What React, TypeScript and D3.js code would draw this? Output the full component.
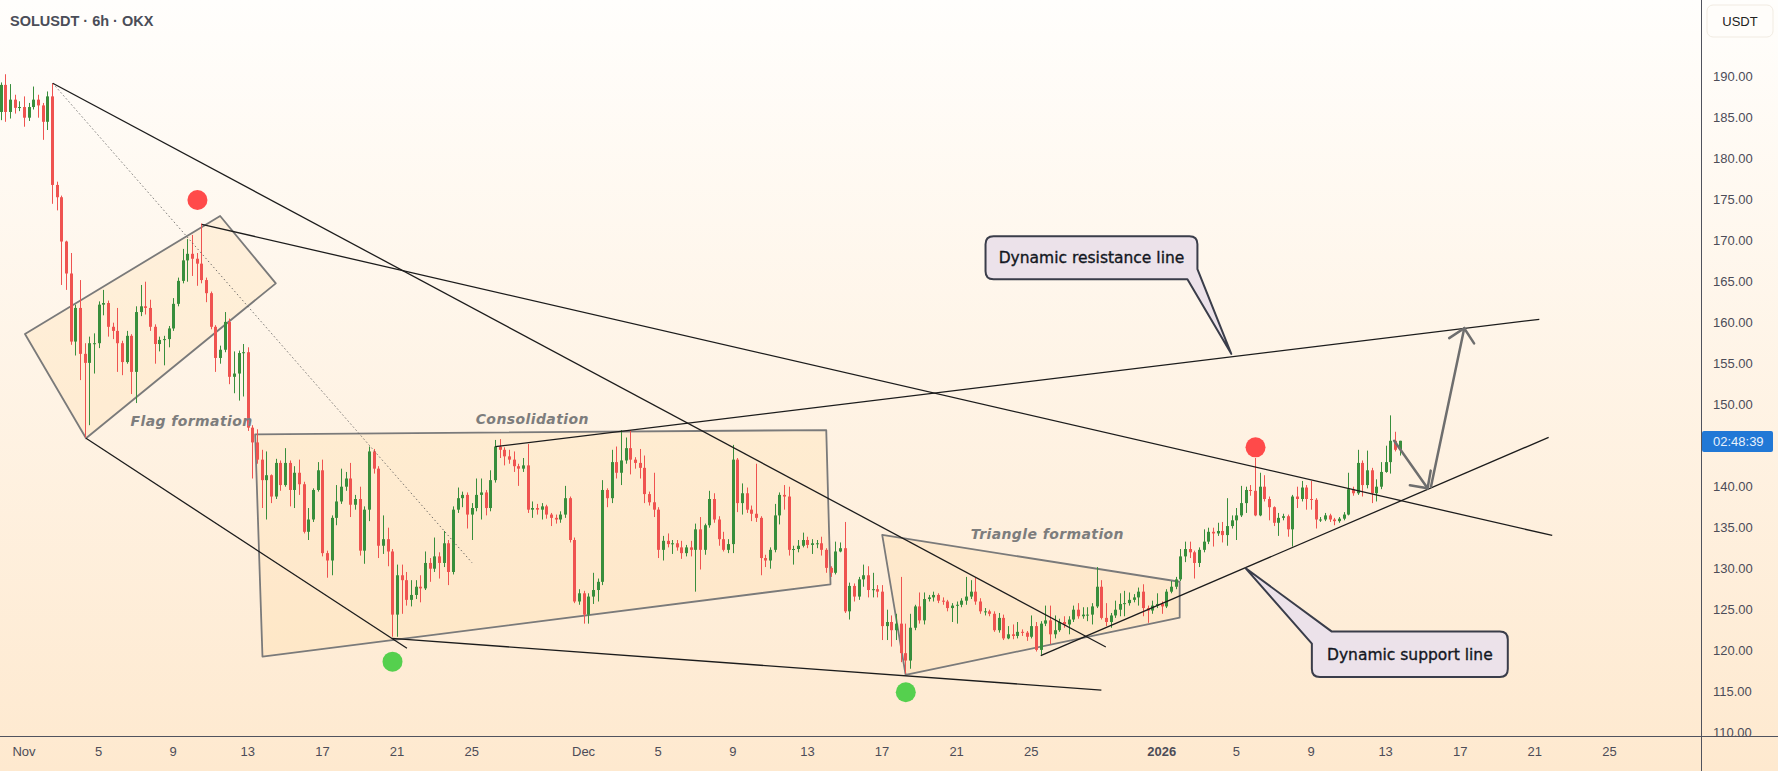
import React from "react";
import * as d3 from "d3";

const W = 1778;
const H = 771;
const PANE_R = 1701.5;
const PANE_B = 736.5;

// 6h bars, first bar opens 2025-10-30 18:00 UTC
const firstBar = "2025-10-30T18:00:00Z";
const firstOpen = 185.7;

const closes = [
  189.0, 185.7, 187.2, 186.2, 186.3, 185.0, 186.3, 187.2, 186.5, 184.5, 187.6, 176.8, 175.3, 169.9, 166.0, 157.7,
  161.8, 156.2, 155.1, 157.5, 157.5, 162.2, 162.4, 159.5, 159.0, 157.5, 155.2, 158.4, 154.0, 161.3, 162.0, 161.8,
  159.5, 157.4, 157.9, 158.0, 159.3, 162.3, 165.1, 167.6, 168.4, 167.8, 167.2, 165.2, 163.6, 159.5, 155.7, 156.7,
  160.1, 153.4, 153.8, 156.3, 156.4, 147.2, 145.4, 143.3, 140.8, 141.4, 138.8, 142.9, 140.2, 142.9, 139.6, 141.7,
  140.3, 134.5, 136.0, 139.6, 142.0, 131.9, 131.0, 136.2, 138.2, 140.0, 141.0, 137.8, 138.5, 132.2, 137.2, 144.3,
  142.2, 132.8, 133.6, 132.1, 124.4, 129.2, 128.6, 126.2, 126.8, 127.8, 127.6, 130.7, 130.0, 131.5, 130.7, 133.1,
  129.6, 137.2, 138.6, 139.0, 136.6, 137.4, 139.0, 139.3, 137.4, 140.8, 144.9, 144.5, 143.7, 143.3, 142.5, 142.2,
  142.6, 137.2, 137.4, 137.2, 137.6, 136.6, 136.2, 136.0, 136.6, 138.6, 133.5, 126.0, 127.0, 124.4, 126.6, 127.4,
  128.4, 139.6, 138.6, 143.0, 141.7, 143.2, 144.7, 143.3, 142.9, 142.3, 139.1, 138.1, 137.2, 132.3, 133.4, 133.0,
  133.1, 132.6, 131.9, 132.6, 132.3, 134.8, 132.3, 135.3, 138.5, 136.0, 133.6, 132.3, 133.0, 143.3, 138.0, 139.2,
  137.2, 136.7, 136.2, 131.3, 131.0, 132.3, 136.5, 139.0, 138.8, 132.3, 132.4, 132.8, 133.5, 132.9, 133.1, 133.1,
  132.3, 130.1, 129.5, 132.1, 132.5, 124.8, 127.9, 126.6, 128.7, 129.2, 127.4, 127.5, 127.2, 123.0, 123.5, 122.5,
  123.3, 119.7, 118.8, 122.8, 125.4, 123.7, 126.3, 126.5, 126.8, 126.1, 126.0, 125.2, 125.5, 125.6, 126.1, 126.6,
  127.2, 126.0, 124.8, 124.8, 124.5, 122.5, 124.0, 121.5, 122.0, 121.8, 122.3, 122.2, 121.7, 123.0, 120.1, 123.3,
  123.7, 122.0, 122.5, 123.5, 123.2, 123.8, 125.0, 124.2, 124.4, 124.4, 125.4, 127.8, 124.0, 123.5, 124.3, 125.0,
  125.7, 125.8, 126.2, 126.5, 127.2, 125.2, 124.9, 125.5, 125.7, 125.4, 127.2, 127.8, 128.7, 131.5, 132.4, 132.0,
  130.7, 132.3, 133.3, 134.5, 134.3, 134.6, 134.1, 135.2, 135.9, 136.5, 138.0, 139.6, 139.5, 136.5, 140.0, 138.5,
  137.5, 135.6, 136.2, 136.4, 134.8, 138.8, 138.5, 139.9, 138.5, 138.4, 136.0, 136.0, 136.5, 136.0, 135.8, 136.1,
  136.6, 139.7, 139.2, 142.9, 140.2, 142.0, 139.2, 140.0, 141.8, 143.0, 145.6, 144.5, 145.6,
];

const highs = [
  189.3, 190.3, 189.1, 187.8, 187.0, 187.6, 186.8, 188.8, 187.8, 186.8, 188.2, 189.2, 177.2, 175.5, 170.0, 168.5,
  162.2, 165.2, 157.5, 158.3, 158.7, 162.6, 164.0, 162.7, 160.0, 161.8, 157.8, 159.0, 158.6, 162.0, 164.6, 165.0,
  162.8, 159.8, 158.3, 158.4, 159.6, 163.0, 165.5, 169.0, 170.2, 170.7, 168.5, 172.1, 165.5, 163.8, 159.7, 157.2,
  161.3, 160.5, 156.5, 156.6, 157.4, 157.0, 147.5, 147.0, 144.5, 144.3, 141.5, 143.4, 143.2, 144.7, 143.2, 142.5,
  143.3, 140.6, 137.4, 139.8, 143.0, 143.3, 132.2, 136.5, 140.2, 142.2, 141.8, 142.9, 139.0, 140.0, 137.6, 144.9,
  144.6, 142.5, 136.5, 135.0, 132.4, 130.5, 130.5, 129.6, 128.6, 128.6, 129.2, 132.1, 131.3, 133.8, 132.0, 134.6,
  133.5, 137.6, 139.9, 139.4, 139.3, 138.0, 141.0, 141.0, 139.6, 142.0, 145.7, 145.8, 144.8, 144.5, 144.3, 142.8,
  143.5, 145.2, 138.2, 137.9, 138.0, 137.8, 136.8, 136.6, 137.0, 140.1, 138.8, 133.8, 127.5, 127.3, 127.0, 129.5,
  128.8, 140.8, 139.8, 144.5, 144.9, 146.9, 146.0, 146.9, 143.6, 144.6, 143.8, 139.4, 141.7, 137.5, 134.0, 134.3,
  133.5, 133.5, 133.4, 132.9, 133.4, 135.5, 136.3, 135.5, 139.5, 139.2, 136.4, 134.5, 133.6, 145.1, 143.5, 140.4,
  139.9, 137.7, 142.8, 136.4, 131.7, 132.6, 137.9, 139.3, 140.2, 140.0, 132.8, 133.5, 134.4, 133.9, 133.6, 133.5,
  133.9, 132.5, 130.3, 133.3, 133.2, 135.7, 128.3, 128.2, 129.0, 130.5, 130.3, 129.5, 128.0, 128.0, 125.0, 124.3,
  124.5, 129.0, 123.3, 124.5, 125.6, 127.1, 127.1, 126.8, 127.2, 127.0, 126.5, 126.2, 125.8, 126.0, 126.4, 129.0,
  128.6, 128.9, 126.4, 125.2, 125.0, 124.8, 124.6, 124.4, 123.0, 123.2, 123.5, 122.6, 122.4, 124.3, 123.5, 123.6,
  125.5, 125.5, 124.3, 123.9, 124.2, 124.2, 125.5, 125.8, 125.3, 125.3, 125.8, 130.2, 128.6, 125.8, 124.6, 126.1,
  127.0, 127.3, 127.1, 126.9, 127.7, 128.1, 125.5, 126.1, 127.0, 126.0, 127.5, 128.5, 129.0, 132.4, 133.3, 133.3,
  132.2, 132.6, 134.8, 135.0, 135.0, 135.6, 135.7, 138.6, 136.5, 137.4, 140.1, 140.0, 140.2, 143.5, 141.7, 141.4,
  138.8, 137.6, 136.8, 136.7, 136.6, 139.0, 140.0, 140.7, 140.2, 140.7, 138.6, 136.3, 136.8, 136.7, 136.2, 136.3,
  136.9, 141.7, 140.0, 144.5, 143.2, 144.4, 142.3, 140.9, 143.0, 145.0, 148.7, 146.7, 145.6,
];

const lows = [
  184.7, 184.5, 184.9, 185.5, 185.8, 183.9, 184.6, 186.0, 185.0, 182.3, 183.5, 174.5, 173.7, 164.6, 164.0, 157.3,
  156.0, 153.0, 146.0, 147.5, 153.8, 156.9, 160.9, 158.3, 158.0, 154.0, 153.6, 155.0, 151.3, 150.2, 160.8, 161.0,
  159.0, 155.0, 156.5, 154.8, 157.0, 159.0, 162.0, 164.8, 165.0, 165.7, 164.5, 164.8, 162.5, 159.2, 154.0, 155.0,
  156.4, 152.5, 151.4, 150.5, 151.0, 146.8, 141.0, 142.8, 137.4, 136.0, 138.0, 138.5, 139.5, 140.0, 137.6, 137.4,
  139.0, 134.3, 133.5, 135.7, 139.4, 131.5, 128.9, 129.2, 135.3, 137.9, 139.5, 136.3, 137.2, 131.6, 130.6, 135.8,
  141.6, 131.3, 131.8, 130.3, 121.7, 121.7, 124.5, 125.5, 125.4, 126.3, 125.9, 127.4, 128.4, 129.6, 128.8, 130.2,
  128.0, 129.3, 136.8, 137.5, 134.9, 133.5, 137.0, 136.0, 136.5, 137.0, 140.5, 143.5, 142.6, 142.8, 141.8, 140.1,
  141.8, 136.8, 136.2, 136.6, 136.0, 136.1, 135.2, 135.5, 135.6, 136.2, 133.2, 125.8, 125.6, 123.3, 123.3, 125.7,
  126.0, 128.0, 137.5, 138.0, 141.0, 140.2, 142.8, 141.5, 142.2, 141.0, 138.0, 137.7, 136.3, 131.3, 131.0, 132.6,
  131.8, 132.2, 131.2, 131.5, 131.5, 127.2, 129.9, 131.7, 135.0, 135.6, 132.8, 132.1, 131.9, 131.9, 136.9, 136.6,
  136.8, 135.8, 135.7, 129.2, 130.2, 130.0, 132.0, 135.4, 137.2, 131.6, 130.5, 132.0, 132.6, 132.5, 131.8, 132.5,
  131.6, 129.5, 129.0, 129.3, 132.0, 124.6, 123.8, 126.0, 126.2, 127.8, 126.5, 126.5, 126.5, 121.3, 121.3, 120.5,
  121.3, 118.6, 117.2, 117.8, 122.5, 123.3, 123.2, 126.0, 126.0, 125.8, 125.6, 124.8, 123.5, 123.3, 125.3, 125.6,
  126.3, 125.6, 124.5, 124.3, 124.2, 122.3, 122.2, 121.3, 121.4, 121.4, 121.5, 121.8, 121.2, 121.5, 119.9, 119.5,
  123.0, 120.8, 121.5, 122.3, 122.8, 122.0, 123.5, 123.9, 123.9, 123.6, 123.2, 125.2, 123.8, 123.0, 122.8, 124.0,
  124.2, 124.2, 125.5, 125.9, 125.5, 124.2, 123.4, 124.5, 125.2, 124.5, 125.2, 127.0, 127.5, 128.5, 130.8, 131.3,
  128.8, 130.2, 132.0, 133.0, 132.7, 134.0, 133.2, 132.8, 134.9, 133.5, 136.3, 136.8, 138.9, 136.4, 136.4, 138.2,
  135.9, 135.2, 134.0, 135.9, 133.9, 132.7, 137.4, 138.2, 137.2, 137.2, 134.9, 135.7, 135.8, 135.7, 135.3, 135.6,
  135.9, 136.5, 138.9, 139.0, 138.8, 139.8, 138.0, 138.2, 139.7, 141.7, 141.6, 144.3, 143.8,
];

const currentPrice = 145.5;
const countdown = "02:48:39";

const yTicks = [110, 115, 120, 125, 130, 135, 140, 145, 150, 155, 160, 165, 170, 175, 180, 185, 190];
const xTickDates = [
  "2025-11-01", "2025-11-05", "2025-11-09", "2025-11-13", "2025-11-17", "2025-11-21", "2025-11-25",
  "2025-12-01", "2025-12-05", "2025-12-09", "2025-12-13", "2025-12-17", "2025-12-21", "2025-12-25",
  "2026-01-01", "2026-01-05", "2026-01-09", "2026-01-13", "2026-01-17", "2026-01-21", "2026-01-25",
];
const xTickLabels = ["Nov", "5", "9", "13", "17", "21", "25", "Dec", "5", "9", "13", "17", "21", "25", "2026", "5", "9", "13", "17", "21", "25"];

// drawings, in [time, price]
const trendLines: [string, number, string, number][] = [
  ["2025-11-02T13:00Z", 189.2, "2025-12-29T00:00Z", 120.45],
  ["2025-11-10T12:47Z", 172.0, "2026-01-21T22:20Z", 134.05],
  ["2025-11-04T07:48Z", 145.9, "2025-11-21T12:43Z", 120.3],
  ["2025-11-20T17:24Z", 121.5, "2025-12-28T18:15Z", 115.2],
  ["2025-11-26T06:25Z", 144.88, "2026-01-21T05:45Z", 160.41],
  ["2025-12-25T12:15Z", 119.39, "2026-01-21T17:45Z", 146.02],
];
const dottedLine: [string, number, string, number] = ["2025-11-02T13:00Z", 189.2, "2025-11-25T00:25Z", 130.73];

const flagBox: [string, number][] = [
  ["2025-11-01T01:15Z", 158.62], ["2025-11-11T12:22Z", 173.01], ["2025-11-14T12:00Z", 164.8], ["2025-11-04T07:48Z", 145.9],
];
const consolidationBox: [string, number][] = [
  ["2025-11-13T09:25Z", 146.39], ["2025-12-14T00:15Z", 146.91], ["2025-12-14T05:45Z", 128.1], ["2025-11-13T18:50Z", 119.27],
];
const triangleBox: [string, number][] = [
  ["2025-12-17T00:15Z", 134.12], ["2025-12-18T06:22Z", 117.05], ["2026-01-01T23:00Z", 124.02], ["2026-01-01T23:00Z", 128.41],
];

const arrows: [string, number, string, number][] = [
  ["2026-01-13T11:00Z", 145.61, "2026-01-15T06:00Z", 139.8],
  ["2026-01-15T10:20Z", 140.0, "2026-01-17T05:10Z", 159.32],
];

const redDots: [string, number][] = [["2025-11-10T07:10Z", 174.96], ["2026-01-06T00:36Z", 144.8]];
const greenDots: [string, number][] = [["2025-11-20T18:10Z", 118.66], ["2025-12-18T06:36Z", 114.93]];

const patternLabels: [string, string, number][] = [
  ["Flag formation", "2025-11-09T23:40Z", 148.0],
  ["Consolidation", "2025-11-28T06:00Z", 148.26],
  ["Triangle formation", "2025-12-25T20:45Z", 134.23],
];

const callouts = [
  { text: "Dynamic resistance line", box: ["2025-12-22T13:12Z", 170.54, "2026-01-02T21:50Z", 165.3], tip: ["2026-01-04T17:24Z", 156.2], corner: "br" },
  { text: "Dynamic support line", box: ["2026-01-09T01:05Z", 122.33, "2026-01-19T13:12Z", 116.79], tip: ["2026-01-05T12:00Z", 130.05], corner: "tl" },
];

const UP = "#388e3c";
const DOWN = "#ef5350";
const AXIS_TXT = "#4c4c58";
const FONT = "'Liberation Sans', Arial, sans-serif";

const x = d3
  .scaleUtc()
  .domain([new Date("2025-11-01T00:00:00Z"), new Date("2026-01-01T00:00:00Z")])
  .range([24, 1161.8]);
const y = d3.scaleLinear().domain([110, 190]).range([732.7, 76.7]);

const T = (s: string) => new Date(s);
const px = (t: string, p: number): [number, number] => [x(T(t)), y(p)];

function calloutPath(c: any) {
  const [x0, y0] = px(c.box[0], c.box[1]);
  const [x1, y1] = px(c.box[2], c.box[3]);
  const [tx, ty] = px(c.tip[0], c.tip[1]);
  const r = 8;
  if (c.corner === "br") {
    return `M${x0 + r},${y0} H${x1 - r} Q${x1},${y0} ${x1},${y0 + r} V${y1 - 10} L${tx},${ty} L${x1 - 10},${y1} H${x0 + r} Q${x0},${y1} ${x0},${y1 - r} V${y0 + r} Q${x0},${y0} ${x0 + r},${y0} Z`;
  }
  return `M${x0 + 20},${y0} H${x1 - r} Q${x1},${y0} ${x1},${y0 + r} V${y1 - r} Q${x1},${y1} ${x1 - r},${y1} H${x0 + r} Q${x0},${y1} ${x0},${y1 - r} V${y0 + 12} L${tx},${ty} Z`;
}

function arrowHead(x1: number, y1: number, x2: number, y2: number, len = 18) {
  const a = Math.atan2(y1 - y2, x1 - x2);
  const a1 = a + Math.PI / 4;
  const a2 = a - Math.PI / 4;
  return `M${x2 + len * Math.cos(a1)},${y2 + len * Math.sin(a1)} L${x2},${y2} L${x2 + len * Math.cos(a2)},${y2 + len * Math.sin(a2)}`;
}

export default function App() {
  const t0 = T(firstBar).getTime();
  const bars = closes.map((c, i) => {
    const o = i === 0 ? firstOpen : closes[i - 1];
    return { t: new Date(t0 + i * 6 * 3600 * 1000), o, c, h: highs[i], l: lows[i] };
  });
  const poly = (pts: [string, number][]) => pts.map(([t, p]) => px(t, p).join(",")).join(" ");
  const priceY = y(currentPrice);
  // the live price label hides the tick under it
  const visibleTicks = yTicks.filter((v) => Math.abs(y(v) - priceY) > 14);

  return (
    <svg width={W} height={H} style={{ position: "absolute", left: 0, top: 0, display: "block" }}>
      <defs>
        <linearGradient id="bg" x1="0" y1="0" x2="0" y2="1">
          <stop offset="0%" stopColor="#fffefc" />
          <stop offset="100%" stopColor="#fee9cf" />
        </linearGradient>
        <clipPath id="pane">
          <rect x={0} y={0} width={PANE_R} height={PANE_B} />
        </clipPath>
      </defs>
      <rect width={W} height={H} fill="url(#bg)" />

      <g clipPath="url(#pane)">
        {[flagBox, consolidationBox, triangleBox].map((b, i) => (
          <polygon key={i} points={poly(b)} fill="rgba(253,214,150,0.22)" stroke="#7a7a7a" strokeWidth={1.8} strokeLinejoin="round" />
        ))}

        {bars.map((b, i) => {
          const cx = Math.round(x(b.t)) + 0.5;
          const col = b.c >= b.o ? UP : DOWN;
          const top = y(Math.max(b.o, b.c));
          const bot = y(Math.min(b.o, b.c));
          return (
            <g key={i}>
              <line x1={cx} x2={cx} y1={y(b.h)} y2={y(b.l)} stroke={col} strokeWidth={1} />
              <rect x={cx - 1.5} y={top} width={3} height={Math.max(1, bot - top)} fill={col} />
            </g>
          );
        })}

        <line
          x1={px(dottedLine[0], dottedLine[1])[0]}
          y1={px(dottedLine[0], dottedLine[1])[1]}
          x2={px(dottedLine[2], dottedLine[3])[0]}
          y2={px(dottedLine[2], dottedLine[3])[1]}
          stroke="#555"
          strokeWidth={1}
          strokeDasharray="1.5 2.5"
          opacity={0.8}
        />
        {trendLines.map((l, i) => {
          const [ax, ay] = px(l[0], l[1]);
          const [bx, by] = px(l[2], l[3]);
          return <line key={i} x1={ax} y1={ay} x2={bx} y2={by} stroke="#1c1c1c" strokeWidth={1.3} />;
        })}

        {arrows.map((a, i) => {
          const [ax, ay] = px(a[0], a[1]);
          const [bx, by] = px(a[2], a[3]);
          return (
            <g key={i} stroke="#6e6e6e" strokeWidth={2.5} fill="none" strokeLinecap="round">
              <line x1={ax} y1={ay} x2={bx} y2={by} />
              <path d={arrowHead(ax, ay, bx, by)} />
            </g>
          );
        })}

        {redDots.map((d, i) => (
          <circle key={"r" + i} cx={px(d[0], d[1])[0]} cy={px(d[0], d[1])[1]} r={10} fill="#ff4a4a" />
        ))}
        {greenDots.map((d, i) => (
          <circle key={"g" + i} cx={px(d[0], d[1])[0]} cy={px(d[0], d[1])[1]} r={10} fill="#55d04e" />
        ))}

        {patternLabels.map(([txt, t, p], i) => (
          <text
            key={i}
            x={x(T(t))}
            y={y(p)}
            textAnchor="middle"
            dominantBaseline="central"
            fontFamily="'DejaVu Sans', sans-serif"
            fontWeight="bold"
            fontStyle="italic"
            fontSize={14}
            letterSpacing={0.4}
            fill="#7d7d7d"
          >
            {txt}
          </text>
        ))}

        {callouts.map((c, i) => {
          const [x0, y0] = px(c.box[0] as string, c.box[1] as number);
          const [x1, y1] = px(c.box[2] as string, c.box[3] as number);
          return (
            <g key={i}>
              <path d={calloutPath(c)} fill="#ece2ea" stroke="#3a3d4a" strokeWidth={2} strokeLinejoin="round" />
              <text
                x={(x0 + x1) / 2}
                y={(y0 + y1) / 2 + 0.5}
                textAnchor="middle"
                dominantBaseline="central"
                fontFamily="'DejaVu Sans', sans-serif"
                fontSize={15.5}
                stroke="#131722"
                strokeWidth={0.35}
                fill="#131722"
              >
                {c.text}
              </text>
            </g>
          );
        })}
      </g>

      {/* title */}
      <text x={10} y={21} dominantBaseline="central" fontFamily={FONT} fontWeight="bold" fontSize={14.5} fill="#4a4d58">
        SOLUSDT · 6h · OKX
      </text>

      {/* axes */}
      <line x1={PANE_R} x2={PANE_R} y1={0} y2={H} stroke="#50535e" strokeWidth={1} />
      <line x1={0} x2={W} y1={PANE_B} y2={PANE_B} stroke="#50535e" strokeWidth={1} />

      {visibleTicks.map((v) => (
        <text key={v} x={1713} y={y(v)} dominantBaseline="central" fontFamily={FONT} fontSize={13} fill={AXIS_TXT}>
          {v.toFixed(2)}
        </text>
      ))}

      <rect x={1707} y={5} width={66} height={32} rx={6} fill="#fffdfa" stroke="#f1ebe2" />
      <text x={1740} y={21.5} textAnchor="middle" dominantBaseline="central" fontFamily={FONT} fontSize={13} fill="#222">
        USDT
      </text>

      <rect x={PANE_R + 0.5} y={priceY - 10.5} width={71} height={21} rx={2} fill="#2178d6" />
      <text x={1713} y={priceY} dominantBaseline="central" fontFamily={FONT} fontSize={13} fill="#e8f1fc">
        {countdown}
      </text>

      {xTickDates.map((d, i) => (
        <text
          key={d}
          x={x(T(d + "T00:00:00Z"))}
          y={751}
          textAnchor="middle"
          dominantBaseline="central"
          fontFamily={FONT}
          fontSize={13}
          fontWeight={xTickLabels[i] === "2026" ? "bold" : "normal"}
          fill={AXIS_TXT}
        >
          {xTickLabels[i]}
        </text>
      ))}
    </svg>
  );
}
